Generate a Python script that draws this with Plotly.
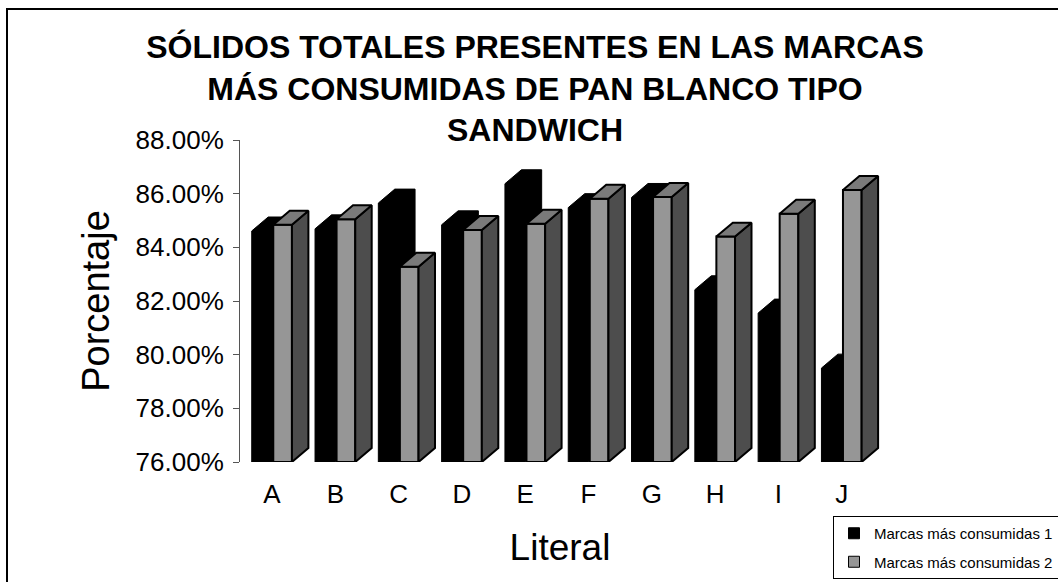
import plotly.graph_objects as go

categories = ["A", "B", "C", "D", "E", "F", "G", "H", "I", "J"]
serie1_name = "Marcas más consumidas 1"
serie2_name = "Marcas más consumidas 2"
serie1 = [84.61, 84.69, 85.65, 84.84, 86.37, 85.48, 85.86, 82.42, 81.55, 79.50]
serie2 = [84.84, 85.05, 83.28, 84.65, 84.88, 85.81, 85.88, 84.40, 85.25, 86.14]
y_ticks = [76, 78, 80, 82, 84, 86, 88]

# geometry of the pseudo-3D columns (category units / percent units)
BASE = 76.0
W1 = (-0.32, 0.0)     # black front face relative to category centre
W2 = (0.02, 0.315)    # grey front face relative to category centre
DX = 0.26             # depth offset in x
DY = 0.52             # depth offset in y

FONT = "Liberation Sans, Arial, sans-serif"

fig = go.Figure()

# black columns: one hexagon per column (front + top + side)
bx, by = [], []
for i, v in enumerate(serie1):
    L, R = i + W1[0], i + W1[1]
    bx += [L, L, L + DX, R + DX, R + DX, R, L, None]
    by += [BASE, v, v + DY, v + DY, BASE + DY, BASE, BASE, None]
fig.add_trace(go.Scatter(x=bx, y=by, mode="lines", fill="toself",
                         fillcolor="#000000", line=dict(color="#000000", width=1),
                         showlegend=False, hoverinfo="skip"))

# grey columns: front, side, top faces
fx, fy, sx, sy, tx, ty = [], [], [], [], [], []
for i, v in enumerate(serie2):
    L, R = i + W2[0], i + W2[1]
    fx += [L, L, R, R, L, None]
    fy += [BASE, v, v, BASE, BASE, None]
    sx += [R, R, R + DX, R + DX, R, None]
    sy += [BASE, v, v + DY, BASE + DY, BASE, None]
    tx += [L, L + DX, R + DX, R, L, None]
    ty += [v, v + DY, v + DY, v, v, None]
for xs, ys, col in [(fx, fy, "#969696"), (sx, sy, "#4d4d4d"), (tx, ty, "#7a7a7a")]:
    fig.add_trace(go.Scatter(x=xs, y=ys, mode="lines", fill="toself",
                             fillcolor=col, line=dict(color="#000000", width=2),
                             showlegend=False, hoverinfo="skip"))

# legend entries
fig.add_trace(go.Scatter(x=[None], y=[None], mode="markers", name=serie1_name,
                         marker=dict(symbol="square", size=11, color="#000000",
                                     line=dict(color="#000000", width=1)),
                         legendgroup="a"))
fig.add_trace(go.Scatter(x=[None], y=[None], mode="markers", name=serie2_name,
                         marker=dict(symbol="square", size=11, color="#969696",
                                     line=dict(color="#000000", width=1)),
                         legendgroup="b"))

W, H = 1058, 582
L_PX, R_PX, T_PX, B_PX = 240, 880, 140, 462
PX_PER_CAT = 63.3
x0 = (L_PX - 272) / PX_PER_CAT
x1 = x0 + (R_PX - L_PX) / PX_PER_CAT

def px_to_paper_x(px):
    return (px - L_PX) / (R_PX - L_PX)

def px_to_paper_y(py):
    return (B_PX - py) / (B_PX - T_PX)

fig.update_layout(
    width=W, height=H,
    margin=dict(l=L_PX, r=W - R_PX, t=T_PX, b=H - B_PX, autoexpand=False),
    paper_bgcolor="white", plot_bgcolor="white",
    font=dict(family=FONT, color="#000000"),
    title=dict(
        text="SÓLIDOS TOTALES PRESENTES EN LAS MARCAS<br>MÁS CONSUMIDAS DE PAN BLANCO TIPO<br>SANDWICH",
        font=dict(family=FONT, size=32, color="#000000", weight="bold"),
        x=px_to_paper_x(535), xref="paper", xanchor="center",
        y=1 - 58 / H, yref="container", yanchor="top",
    ),
    xaxis=dict(
        range=[x0, x1], tickmode="array", tickvals=list(range(len(categories))),
        ticktext=categories, showgrid=False, zeroline=False, showline=False,
        ticks="", tickfont=dict(size=26), ticklabelstandoff=14,
        title=dict(text="Literal", font=dict(size=37), standoff=26),
    ),
    yaxis=dict(
        range=[76, 88], tickmode="array", tickvals=y_ticks,
        ticktext=[f"{t:.2f}%" for t in y_ticks],
        showgrid=False, zeroline=False, showline=True, linecolor="#555555",
        linewidth=1, ticks="outside", ticklen=6, tickcolor="#555555",
        tickfont=dict(size=26), ticklabelstandoff=4,
        title=dict(text="Porcentaje", font=dict(size=38), standoff=14),
    ),
    legend=dict(
        x=px_to_paper_x(1059), xanchor="right",
        y=px_to_paper_y(516), yanchor="top",
        bgcolor="white", bordercolor="#000000", borderwidth=1,
        font=dict(size=15), tracegroupgap=6, itemwidth=30,
    ),
    showlegend=True,
)

# chart-area frame (cropped on right and bottom)
fig.add_shape(type="rect", xref="paper", yref="paper",
              x0=px_to_paper_x(7), x1=px_to_paper_x(1090),
              y0=px_to_paper_y(620), y1=px_to_paper_y(9),
              line=dict(color="#000000", width=2), fillcolor="rgba(0,0,0,0)",
              layer="below")

fig.write_html("out.html")
